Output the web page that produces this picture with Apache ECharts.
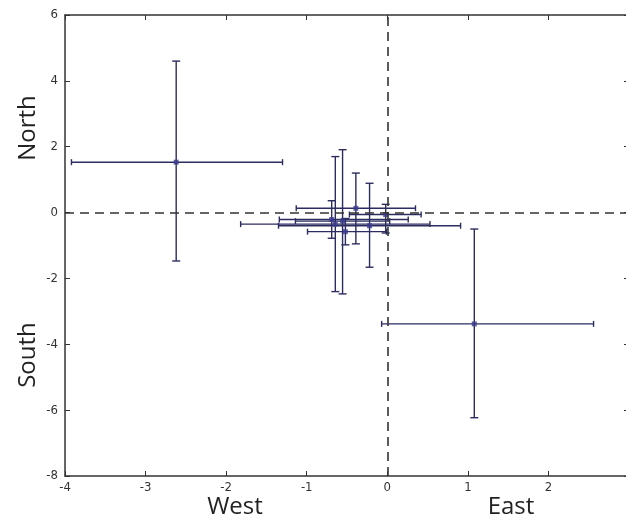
<!DOCTYPE html>
<html><head><meta charset="utf-8">
<script src="https://cdn.jsdelivr.net/npm/echarts@6/dist/echarts.min.js"></script>
<style>html,body{margin:0;padding:0;background:#fff}#c{width:626px;height:522px}</style>
</head><body><div id="c"></div>
<script>
// Point centers and error-bar extents (data units)
const xVal  = [-2.62, 1.08, -0.645, -0.555, -0.69, -0.39, -0.22, -0.02, -0.52];
const yVal  = [1.53, -3.38, -0.35, -0.26, -0.21, 0.13, -0.40, -0.06, -0.58];
const xLow  = [-3.92, -0.07, -1.82, -1.14, -1.34, -1.13, -1.35, -0.47, -0.99];
const xHigh = [-1.30, 2.56, 0.53, 0.03, 0.26, 0.35, 0.91, 0.42, -0.01];
const yLow  = [-1.47, -6.23, -2.40, -2.47, -0.78, -0.95, -1.66, -0.62, -0.98];
const yHigh = [4.60, -0.50, 1.70, 1.91, 0.36, 1.20, 0.89, 0.25, -0.18];
const xRange = [-4, 3], xStep = 1;
const yRange = [-8, 6], yStep = 2;
const axisTitles = {north: 'North', south: 'South', west: 'West', east: 'East'};

const barData = xVal.map((x, i) => [x, yVal[i], xLow[i], xHigh[i], yLow[i], yHigh[i]]);
const ptData = xVal.map((x, i) => [x, yVal[i]]);
const barColor = '#2c2c60';

const chart = echarts.init(document.getElementById('c'), null, {renderer: 'canvas'});
const tickFont = {fontFamily: 'Liberation Sans Narrow, DejaVu Sans Condensed, sans-serif', fontSize: 13, color: '#333'};
const axisLine = {show: true, onZero: false, lineStyle: {color: '#333', width: 1.5}};
const tick = {show: true, inside: true, length: 5, lineStyle: {color: '#333'}};
const titleFont = '24px "Open Sans", "DejaVu Sans", sans-serif';
chart.setOption({
  animation: false,
  backgroundColor: '#fff',
  grid: {left: 65, top: 15, width: 564, height: 461, containLabel: false, outerBoundsMode: 'none'},
  xAxis: [
    {type: 'value', min: xRange[0], max: xRange[1], interval: xStep, position: 'bottom',
     axisLine: axisLine, axisTick: tick,
     axisLabel: Object.assign({margin: 5}, tickFont), splitLine: {show: false}},
    {type: 'value', min: xRange[0], max: xRange[1], interval: xStep, position: 'top',
     axisLine: axisLine, axisTick: tick,
     axisLabel: {show: false}, splitLine: {show: false}}
  ],
  yAxis: [
    {type: 'value', min: yRange[0], max: yRange[1], interval: yStep, position: 'left',
     axisLine: axisLine, axisTick: tick,
     axisLabel: Object.assign({margin: 7}, tickFont), splitLine: {show: false}},
    {type: 'value', min: yRange[0], max: yRange[1], interval: yStep, position: 'right',
     axisLine: axisLine, axisTick: tick,
     axisLabel: {show: false}, splitLine: {show: false}}
  ],
  series: [
    {
      type: 'custom', xAxisIndex: 0, yAxisIndex: 0, data: barData, z: 3,
      renderItem: function (params, api) {
        const x = api.value(0), y = api.value(1);
        const hl = api.coord([api.value(2), y]);
        const hr = api.coord([api.value(3), y]);
        const vb = api.coord([x, api.value(4)]);
        const vt = api.coord([x, api.value(5)]);
        const st = {stroke: barColor, lineWidth: 1.4};
        const cw = 4, ch = 3;
        return {type: 'group', children: [
          {type: 'line', shape: {x1: hl[0], y1: hl[1], x2: hr[0], y2: hr[1]}, style: st},
          {type: 'line', shape: {x1: hl[0], y1: hl[1] - ch, x2: hl[0], y2: hl[1] + ch}, style: st},
          {type: 'line', shape: {x1: hr[0], y1: hr[1] - ch, x2: hr[0], y2: hr[1] + ch}, style: st},
          {type: 'line', shape: {x1: vb[0], y1: vb[1], x2: vt[0], y2: vt[1]}, style: st},
          {type: 'line', shape: {x1: vb[0] - cw, y1: vb[1], x2: vb[0] + cw, y2: vb[1]}, style: st},
          {type: 'line', shape: {x1: vt[0] - cw, y1: vt[1], x2: vt[0] + cw, y2: vt[1]}, style: st}
        ]};
      }
    },
    {
      type: 'scatter', data: ptData, symbol: 'rect', symbolSize: 5, z: 4,
      itemStyle: {color: '#3b3b8f'},
      markLine: {
        silent: true, symbol: 'none', label: {show: false},
        lineStyle: {type: [9, 6], color: '#333', width: 1.6},
        data: [{xAxis: 0}, {yAxis: 0}]
      }
    }
  ],
  graphic: [
    {type: 'text', rotation: Math.PI / 2, x: 28, y: 128,
     style: {text: axisTitles.north, font: titleFont, fill: '#222', align: 'center', verticalAlign: 'middle'}},
    {type: 'text', rotation: Math.PI / 2, x: 28, y: 355,
     style: {text: axisTitles.south, font: titleFont, fill: '#222', align: 'center', verticalAlign: 'middle'}},
    {type: 'text', x: 235, y: 507,
     style: {text: axisTitles.west, font: titleFont, fill: '#222', align: 'center', verticalAlign: 'middle'}},
    {type: 'text', x: 511, y: 507,
     style: {text: axisTitles.east, font: titleFont, fill: '#222', align: 'center', verticalAlign: 'middle'}}
  ]
});
</script>
</body></html>
